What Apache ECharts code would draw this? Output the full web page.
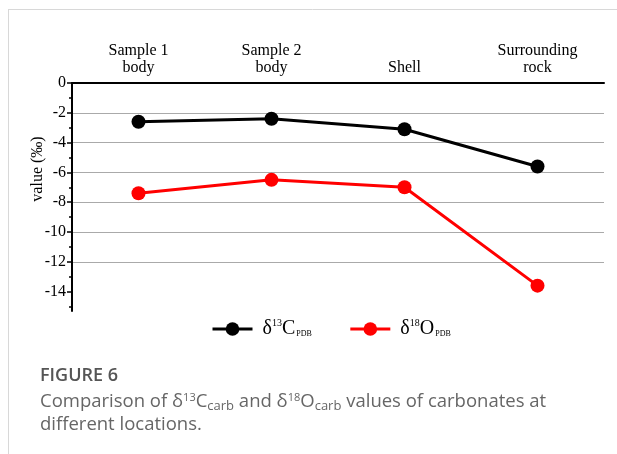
<!DOCTYPE html>
<html><head><meta charset="utf-8">
<script src="https://cdn.jsdelivr.net/npm/echarts@6/dist/echarts.min.js"></script>
<style>html,body{margin:0;padding:0;background:#fff}#c{width:617px;height:454px}</style>
</head><body><div id="c"></div>
<script>
const categories = ['Sample 1\nbody', 'Sample 2\nbody', 'Shell', 'Surrounding\nrock'];
const c13Values = [-2.6, -2.4, -3.1, -5.6];
const o18Values = [-7.4, -6.5, -7.0, -13.6];
const majorTicks = [0, -2, -4, -6, -8, -10, -12, -14];
const minorTicks = [-1, -3, -5, -7, -9, -11, -13, -15];
const seriesNames = ['C13', 'O18'];

const serif = 'Liberation Serif';
const sans = 'Open Sans';
const chart = echarts.init(document.getElementById('c'));
const legendRich = {
  m: {fontFamily: serif, fontSize: 20, color: '#000', lineHeight: 22, verticalAlign: 'middle'},
  sup: {fontFamily: serif, fontSize: 10, color: '#000', lineHeight: 22, verticalAlign: 'top'},
  sub: {fontFamily: serif, fontSize: 8, color: '#000', lineHeight: 22, verticalAlign: 'bottom', padding: [0,0,2,1]}
};
chart.setOption({
  animation: false,
  backgroundColor: '#fff',
  title: [{
    text: 'FIGURE 6',
    left: 35, top: 362,
    textStyle: {fontFamily: sans, fontSize: 18, fontWeight: 600, color: '#555'}
  }, {
    text: 'Comparison of δ{sup|13}C{sub|carb} and δ{sup|18}O{sub|carb} values of carbonates at\ndifferent locations.',
    left: 35, top: 385,
    textStyle: {
      fontFamily: sans, fontSize: 18.5, fontWeight: 'normal', color: '#666', lineHeight: 23,
      rich: {
        sup: {fontFamily: sans, fontSize: 11, fontWeight: 'normal', color: '#666', verticalAlign: 'top', lineHeight: 23, padding: [2,0,0,0]},
        sub: {fontFamily: sans, fontSize: 13, fontWeight: 'normal', color: '#666', verticalAlign: 'bottom', lineHeight: 23}
      }
    }
  }],
  graphic: [
    {type: 'line', shape: {x1: 8, y1: 9.5, x2: 617, y2: 9.5}, style: {stroke: '#d8d8d8', lineWidth: 1}},
    {type: 'line', shape: {x1: 8.5, y1: 9, x2: 8.5, y2: 454}, style: {stroke: '#d8d8d8', lineWidth: 1}}
  ],
  legend: {
    top: 313, left: 206,
    itemWidth: 40, itemHeight: 17, itemGap: 37,
    data: seriesNames,
    lineStyle: {width: 3},
    formatter: function (n) {
      return n === 'C13' ? '{m| δ}{sup|13}{m|C}{sub|PDB}' : '{m| δ}{sup|18}{m|O}{sub|PDB}';
    },
    textStyle: {rich: legendRich}
  },
  grid: {left: 72, right: 13, top: 83, bottom: 143},
  xAxis: {
    type: 'category', position: 'top', data: categories,
    boundaryGap: true,
    axisLine: {lineStyle: {color: '#000', width: 2}},
    axisTick: {show: false},
    axisLabel: {fontFamily: serif, fontSize: 16, color: '#000', lineHeight: 17, margin: 7},
    splitLine: {show: false}
  },
  yAxis: [{
    type: 'value', min: -15.3, max: 0,
    name: 'value (‰)', nameLocation: 'middle', nameGap: 26, nameMoveOverlap: false,
    nameTextStyle: {fontFamily: serif, fontSize: 16, color: '#000', padding: [0, 0, 0, 56]},
    axisLine: {show: true, lineStyle: {color: '#000', width: 2}},
    axisTick: {show: true, length: 5, lineStyle: {color: '#000', width: 1.5}, customValues: majorTicks},
    axisLabel: {fontFamily: serif, fontSize: 16, color: '#000', margin: 6, customValues: majorTicks},
    splitLine: {show: true, showMinLine: false, showMaxLine: false, lineStyle: {color: '#aaa', width: 1}}
  }, {
    type: 'value', min: -15.3, max: 0, position: 'left',
    axisLine: {show: false},
    axisTick: {show: true, length: 3, lineStyle: {color: '#000', width: 1.5}, customValues: minorTicks},
    axisLabel: {show: false},
    splitLine: {show: false}
  }],
  series: [{
    name: 'C13', type: 'line', data: c13Values,
    symbol: 'circle', symbolSize: 14,
    lineStyle: {color: '#000', width: 3},
    itemStyle: {color: '#000'}
  }, {
    name: 'O18', type: 'line', data: o18Values,
    symbol: 'circle', symbolSize: 14,
    lineStyle: {color: '#ff0000', width: 3},
    itemStyle: {color: '#ff0000'}
  }]
});
</script></body></html>
